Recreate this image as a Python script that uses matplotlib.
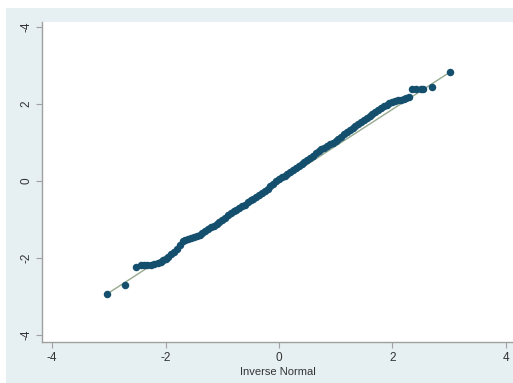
import matplotlib
matplotlib.use('Agg')
import matplotlib.pyplot as plt
from matplotlib.patches import Rectangle

plt.rcParams['font.family'] = ['Liberation Sans', 'DejaVu Sans']

# theoretical quantiles (Inverse Normal) and sorted sample values
inv_normal = [-3.03, -2.72, -2.52, -2.44, -2.38, -2.32, -2.26, -2.20, -2.14, -2.08, -2.04,
              -2.00, -1.95, -1.90, -1.85, -1.80, -1.75, -1.70, -1.65, -1.60, -1.55,
              -1.50, -1.45, -1.40, -1.35, -1.30, -1.25, -1.20, -1.15, -1.10, -1.05,
              -1.00, -0.95, -0.90, -0.85, -0.80, -0.75, -0.70, -0.65, -0.60, -0.55,
              -0.50, -0.45, -0.40, -0.35, -0.30, -0.25, -0.20, -0.15, -0.10, -0.05,
              0.00, 0.05, 0.10, 0.15, 0.20, 0.25, 0.30, 0.35, 0.40, 0.45,
              0.50, 0.55, 0.60, 0.65, 0.70, 0.75, 0.80, 0.85, 0.90, 0.95,
              1.00, 1.05, 1.10, 1.15, 1.20, 1.25, 1.30, 1.35, 1.40, 1.45,
              1.50, 1.55, 1.60, 1.65, 1.70, 1.75, 1.80, 1.85, 1.90, 1.95,
              2.00, 2.05, 2.10, 2.15, 2.20, 2.25, 2.30,
              2.35, 2.42, 2.50, 2.55, 2.70, 3.02]
sample = [-2.93, -2.70, -2.22, -2.18, -2.17, -2.17, -2.17, -2.16, -2.14, -2.10, -2.04,
          -2.02, -1.97, -1.90, -1.84, -1.76, -1.67, -1.57, -1.52, -1.50, -1.48,
          -1.46, -1.43, -1.40, -1.35, -1.30, -1.25, -1.20, -1.16, -1.12, -1.07,
          -1.02, -0.96, -0.89, -0.83, -0.78, -0.74, -0.70, -0.66, -0.61, -0.55,
          -0.50, -0.46, -0.41, -0.36, -0.31, -0.26, -0.21, -0.14, -0.07, 0.00,
          0.05, 0.10, 0.14, 0.19, 0.24, 0.28, 0.33, 0.38, 0.44, 0.50,
          0.55, 0.60, 0.66, 0.72, 0.77, 0.82, 0.87, 0.91, 0.95, 1.00,
          1.05, 1.10, 1.15, 1.21, 1.27, 1.33, 1.39, 1.44, 1.49, 1.53,
          1.58, 1.63, 1.68, 1.74, 1.80, 1.85, 1.89, 1.94, 1.98, 2.02,
          2.06, 2.08, 2.10, 2.11, 2.13, 2.15, 2.17,
          2.39, 2.39, 2.40, 2.40, 2.44, 2.83]

# reference line endpoints (mean + sd * z)
ref_x = [-3.03, 3.02]
ref_y = [-2.93, 2.83]

ticks = [-4, -2, 0, 2, 4]
xtick_labels = ['-4', '-2', '0', '2', '4']
ytick_labels = ['-4', '-2', '0', '2', '-4']

fig = plt.figure(figsize=(5.13, 3.83), dpi=100)
fig.patch.set_facecolor('white')
bg = Rectangle((6 / 513, 0), 1, 375 / 383, transform=fig.transFigure,
               facecolor='#E6EFF2', edgecolor='none', zorder=-10)
fig.add_artist(bg)

ax = fig.add_axes([42 / 513, 41 / 383, 471 / 513, 320 / 383])
ax.set_zorder(5)
ax.set_facecolor('white')

ax.plot(ref_x, ref_y, color='#95A98F', lw=1.0, zorder=2)
ax.plot(inv_normal, sample, linestyle='none', marker='o', markersize=5.4,
        color='#154F6E', markeredgewidth=0, zorder=3)

ax.set_xlim(-4.18, 4.13)
ax.set_ylim(-4.18, 4.13)
ax.set_xticks(ticks)
ax.set_xticklabels(xtick_labels)
ax.set_yticks(ticks)
ax.set_yticklabels(ytick_labels, rotation=90, va='center')

for side in ['top', 'right']:
    ax.spines[side].set_visible(False)
for side in ['left', 'bottom']:
    ax.spines[side].set_color('#A0A0A0')
    ax.spines[side].set_linewidth(1.0)

ax.tick_params(direction='out', length=4, width=0.8, color='#A0A0A0',
               labelsize=8.5, labelcolor='#333333', pad=3)
ax.set_xlabel('Inverse Normal', fontsize=8, color='#333333', labelpad=2.5)

fig.savefig('out.png', dpi=100)
